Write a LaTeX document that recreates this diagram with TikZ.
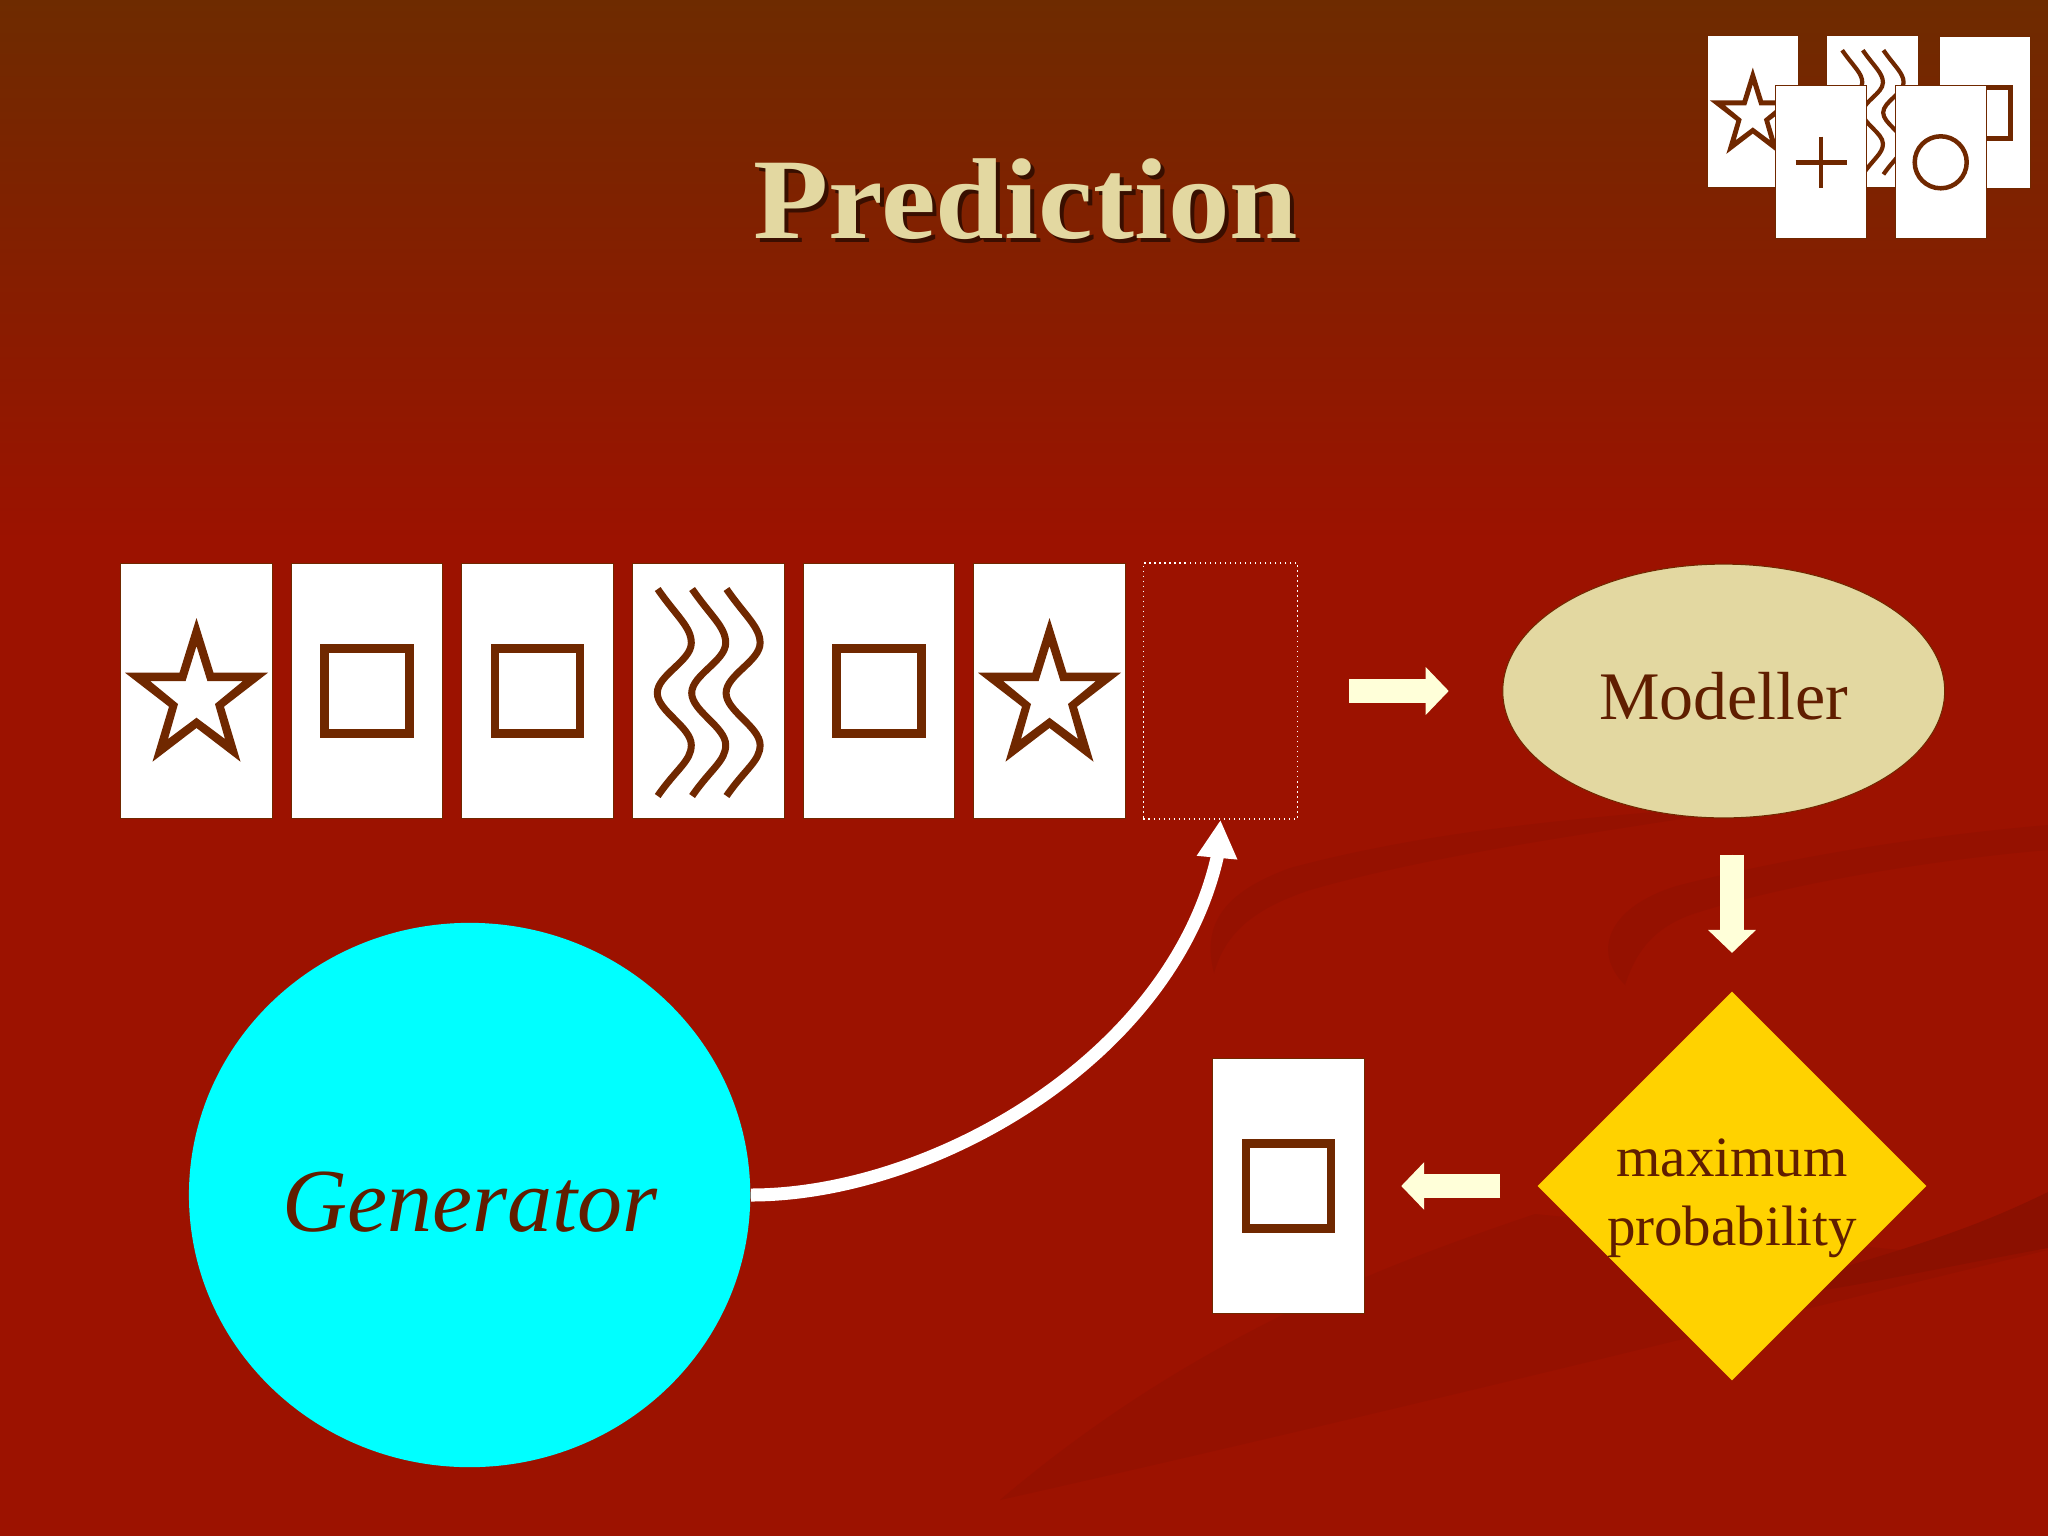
\documentclass[tikz,border=0pt]{standalone}
\usepackage{fontspec}
\setmainfont{Liberation Serif}
\newfontfamily\titlefont[FakeStretch=1.07]{Liberation Serif}
\usetikzlibrary{arrows.meta,shapes.geometric}
\definecolor{slidered}{HTML}{9C1200}
\definecolor{slidetop}{HTML}{6E2B00}
\definecolor{swoosh}{HTML}{951100}
\definecolor{swooshdark}{HTML}{8B1000}
\definecolor{markbrown}{HTML}{702800}
\definecolor{labelbrown}{HTML}{601E00}
\definecolor{sand}{HTML}{E3D8A1}
\definecolor{aqua}{HTML}{00FFFF}
\definecolor{gold}{HTML}{FFD200}
\definecolor{palearrow}{HTML}{FFFFD9}
\tikzset{
    cardbox/.style={draw=markbrown, line width=0.01cm, fill=white, inner sep=0pt, minimum width=1.515cm, minimum height=2.545cm},
    smallcard/.style={cardbox, minimum width=0.91cm, minimum height=1.527cm},
    markline/.style={draw=markbrown, line width=0.084cm},
    waveline/.style={draw=markbrown, line width=0.07cm},
    smallmark/.style={scale=0.6, markline/.append style={line width=0.05cm}, waveline/.append style={line width=0.042cm}},
    blockarrow/.style={draw=palearrow, fill=palearrow, line width=0.24cm, -{Triangle[width=0.465cm,length=0.23cm]}},
    bigtext/.style={text=labelbrown, inner sep=0pt, text depth=0pt},
    pics/starmark/.style={code={
        \fill[markbrown, even odd rule] (0,-73) -- (17,-18.3) -- (71.5,-18.3) -- (27.5,15.7) -- (44,70.7) -- (0,37) -- (-44,70.7) -- (-27.5,15.7) -- (-71.5,-18.3) -- (-17,-18.3) -- cycle
            (0,-45) -- (10.9,-10) -- (46.5,-10) -- (18.5,13) -- (28.5,48) -- (0,26.7) -- (-28.5,48) -- (-18.5,13) -- (-46.5,-10) -- (-10.9,-10) -- cycle;
    }},
    pics/squaremark/.style={code={
        \draw[markline] (-42.5,-42.5) rectangle (42.5,42.5);
    }},
    pics/wavemark/.style={code={
        \foreach \dx in {0,34.4,68.8} {
            \draw[waveline, xshift=\dx*0.01cm] (-50.6,-102) .. controls (-32,-75) and (-17,-64) .. (-17,-48)
                .. controls (-17,-30) and (-51,-16) .. (-51,2)
                .. controls (-51,20) and (-17,36) .. (-17,54)
                .. controls (-17,70) and (-32,78) .. (-50.6,105);
        }
    }},
}
\begin{document}
\begin{tikzpicture}[x=0.01cm, y=-0.01cm]
    \useasboundingbox (0,0) rectangle (2048,1536);
    \fill[slidered] (0,0) rectangle (2048,1536);
    \shade[top color=slidetop, bottom color=slidered] (0,0) rectangle (2048,540);
    \fill[swoosh] (1214,973) .. controls (1200,920) and (1230,890) .. (1290,868) .. controls (1450,825) and (1620,815) .. (1800,800)
        .. controls (1620,830) and (1450,850) .. (1310,890) .. controls (1250,910) and (1225,935) .. (1214,973) -- cycle;
    \fill[swoosh] (1625,985) .. controls (1590,950) and (1610,905) .. (1680,885) .. controls (1800,855) and (1930,835) .. (2048,825)
        -- (2048,850) .. controls (1930,860) and (1780,885) .. (1690,915) .. controls (1650,930) and (1635,955) .. (1625,985) -- cycle;
    \fill[swoosh] (1000,1500) .. controls (1200,1330) and (1400,1260) .. (1535,1214) -- (1900,1250) -- (2048,1250)
        .. controls (1800,1310) and (1400,1410) .. (1000,1500) -- cycle;
    \fill[swooshdark] (2048,1192) .. controls (1960,1235) and (1900,1250) .. (1750,1295) .. controls (1800,1300) and (1900,1275) .. (2048,1248) -- cycle;
    \node (S) [font=\fontsize{32.7}{40}\titlefont\bfseries, text=black, opacity=0.55, inner sep=0pt, text height=0.78cm, text depth=0pt] at (1030,203) {Prediction};
    \node (T) [font=\fontsize{32.7}{40}\titlefont\bfseries, text=sand, inner sep=0pt, text height=0.78cm, text depth=0pt] at (1026,199) {Prediction};
    \node (A) [cardbox] at (196.5,691) {};
    \node (B) [cardbox, node distance=1.705cm, right of=A] {};
    \node (C) [cardbox, node distance=1.705cm, right of=B] {};
    \node (D) [cardbox, node distance=1.705cm, right of=C] {};
    \node (E) [cardbox, node distance=1.705cm, right of=D] {};
    \node (F) [cardbox, node distance=1.705cm, right of=E] {};
    \pic at (A) {starmark};
    \pic at (B) {squaremark};
    \pic at (C) {squaremark};
    \pic at (D) {wavemark};
    \pic at (E) {squaremark};
    \pic at (F) {starmark};
    \node (H) [draw=white, densely dotted, line width=0.015cm, inner sep=0pt, minimum width=1.54cm, minimum height=2.56cm] at (1220.5,691) {};
    \node (M) [ellipse, fill=sand, draw=markbrown, line width=0.01cm, inner sep=0pt, minimum width=4.416cm, minimum height=2.536cm, bigtext, font=\fontsize{19.35}{23}\selectfont, text height=0.576cm] at (1723.7,691) {Modeller};
    \node (P) [diamond, aspect=1, fill=gold, inner sep=0pt, minimum width=3.89cm, minimum height=3.89cm, bigtext, font=\fontsize{16.2}{19.5}\selectfont, align=center, text height=1.186cm] at (1732,1186) {maximum\\probability};
    \node (R) [cardbox] at (1288.5,1186) {};
    \pic at (R) {squaremark};
    \node (G) [ellipse, fill=aqua, inner sep=0pt, minimum width=5.61cm, minimum height=5.44cm, bigtext, font=\fontsize{25.6}{30}\selectfont\itshape, text height=0.72cm] at (469.6,1195) {Generator\hspace{0.16cm}};
    \draw[blockarrow, shorten <=0.51cm, shorten >=0.535cm] (H) -- (M);
    \draw[blockarrow, shorten <=0.363cm, shorten >=0.377cm] (M.south -| P.north) -- (P.north);
    \draw[blockarrow, shorten <=0.365cm, shorten >=0.364cm] (P) -- (R);
    \draw[white, line width=0.13cm, -{Triangle[width=0.38cm,length=0.38cm]}] (G.east) .. controls (930,1195) and (1170,1060) .. (1217,858) -- (H.south);
    \node (a) [smallcard] at (1752.8,111.4) {};
    \pic [smallmark] at (a) {starmark};
    \node (b) [smallcard] at (1872.5,111.4) {};
    \pic [smallmark] at (b) {wavemark};
    \node (c) [smallcard] at (1984.6,112.5) {};
    \pic [smallmark] at (c) {squaremark};
    \node (d) [smallcard] at (1821.2,162.3) {};
    \draw[markline, line width=0.045cm] (d) ++(-25.6,0) -- ++(51.2,0);
    \draw[markline, line width=0.045cm] (d) ++(0,-25.6) -- ++(0,51.2);
    \node (e) [smallcard] at (1940.7,162.3) {};
    \draw[markline, line width=0.045cm] (e) circle [radius=26];
\end{tikzpicture}
\end{document}
